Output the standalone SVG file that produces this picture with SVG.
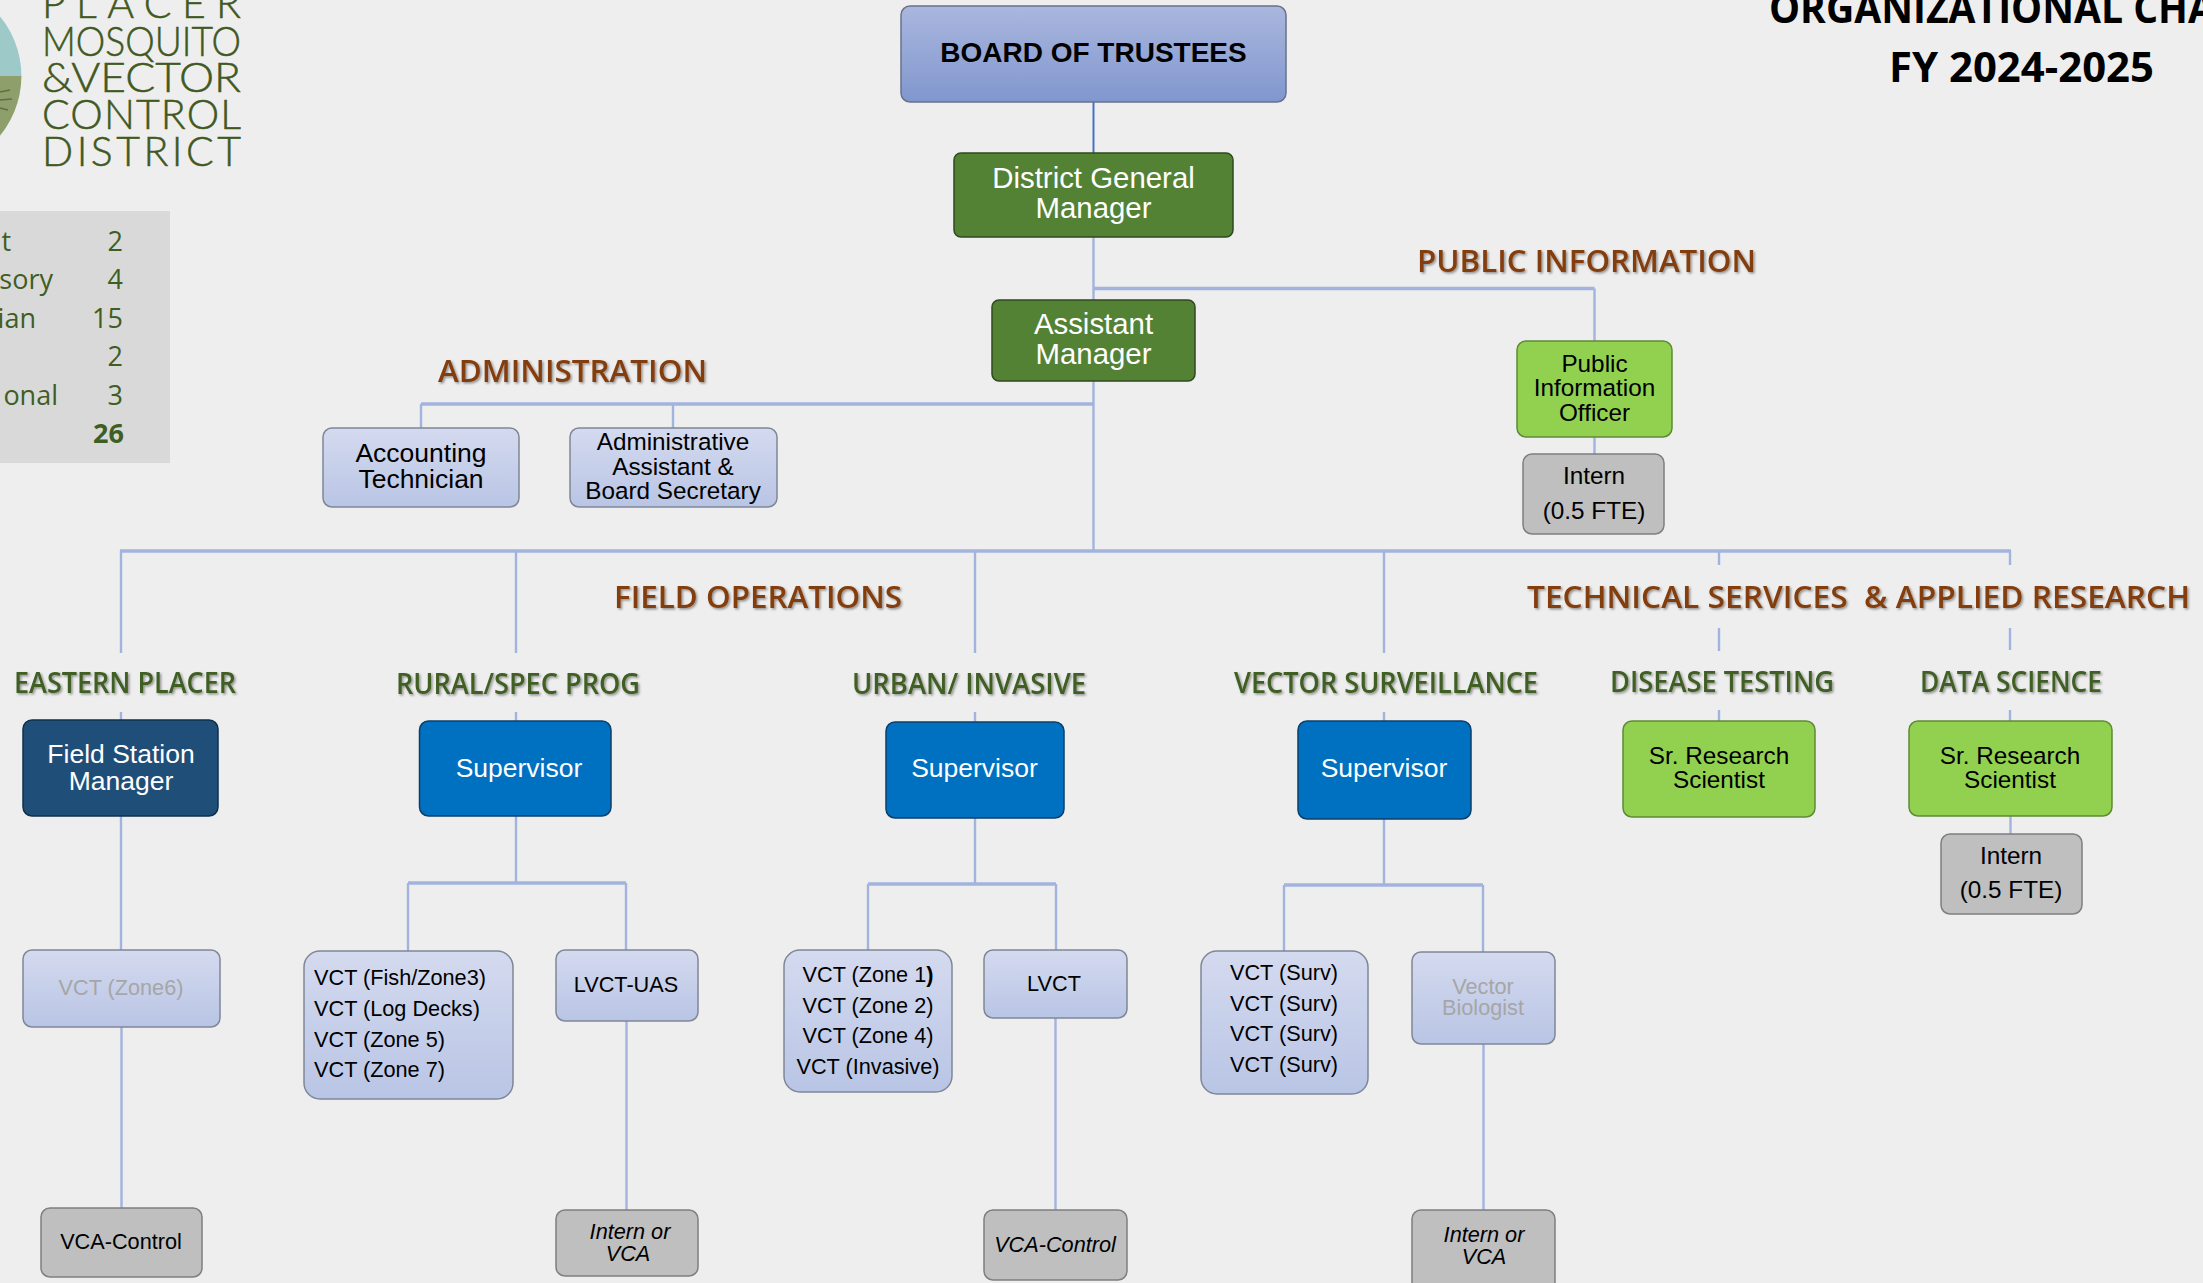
<svg xmlns="http://www.w3.org/2000/svg" width="2203" height="1283" viewBox="0 0 2203 1283">
<style>
.n{font-family:"Liberation Sans",Arial,sans-serif;text-anchor:middle;fill:#000}
.w{fill:#fff}.g{fill:#a6a6a6}.i{font-style:italic}.l{text-anchor:start}
.s22{font-size:21.7px}.s24{font-size:24.3px}.s26{font-size:26.5px}.s29{font-size:29.4px}
.b{stroke-width:1.5}
.blue{fill:url(#lt);stroke:#7f8796}.gray{fill:#bfbfbf;stroke:#7f7f7f}.dk{fill:#548235;stroke:#2f4a1c}.lime{fill:#92d050;stroke:#5f8a35}.bl{fill:#0070c0;stroke:#0b3f6b}.nv{fill:#1f4e79;stroke:#10304c}
.h{font-family:"Open Sans","Noto Sans",sans-serif;font-weight:600;filter:url(#sh)}
.br{font-size:31px;fill:#843c0c}.gn{font-size:28px;fill:#3f5e23}
.t{font-family:"Open Sans","Noto Sans",sans-serif;font-size:27px;fill:#3f5e23}
.e{text-anchor:end}
.logo{font-family:Lato,"Open Sans",sans-serif;font-weight:300;font-size:41px;fill:#41591f;stroke:#41591f;stroke-width:.5}
.ti{font-family:"Open Sans","Noto Sans",sans-serif;font-weight:700;font-size:41px;fill:#000}
.c{fill:none;stroke:#a2b3dd;stroke-width:2.4}
.m{fill:none;stroke:#a2b3dd;stroke-width:3.4}
</style>
<defs>
<linearGradient id="lt" x1="0" y1="0" x2="0" y2="1"><stop offset="0" stop-color="#d4daef"/><stop offset="1" stop-color="#b9c5e5"/></linearGradient>
<linearGradient id="bd" x1="0" y1="0" x2="0" y2="1"><stop offset="0" stop-color="#aab7de"/><stop offset="1" stop-color="#8097ce"/></linearGradient>
<filter id="sh" x="-5%" y="-20%" width="110%" height="150%"><feDropShadow dx="1.5" dy="1.5" stdDeviation="1" flood-color="#000" flood-opacity="0.4"/></filter>
<clipPath id="cc"><circle cx="-72" cy="76" r="93.4"/></clipPath>
</defs>
<rect width="2203" height="1283" fill="#eeeeee"/>

<g id="logo">
<g clip-path="url(#cc)">
<rect x="-170" y="-20" width="200" height="96" fill="#9dc9c9"/>
<rect x="-170" y="76" width="200" height="100" fill="#8f9f6b"/>
<path d="M0 92L10 90M0 100L12 99M0 108L8 110" stroke="#5f6f3e" stroke-width="1.5" fill="none"/>
</g>
<text class="logo" x="42" y="18" textLength="199" lengthAdjust="spacing">PLACER</text>
<text class="logo" x="42" y="56" textLength="199" lengthAdjust="spacingAndGlyphs">MOSQUITO</text>
<text class="logo" x="42" y="92" textLength="199" lengthAdjust="spacingAndGlyphs">&amp;VECTOR</text>
<text class="logo" x="42" y="129" textLength="199" lengthAdjust="spacing">CONTROL</text>
<text class="logo" x="42" y="166" textLength="199" lengthAdjust="spacing">DISTRICT</text>
</g>

<g id="staff-table">
<rect x="-2" y="211" width="172" height="252" fill="#d9d9d9"/>
<text class="t e" x="11" y="251">t</text><text class="t e" x="123" y="251">2</text>
<text class="t e" x="53" y="289">sory</text><text class="t e" x="123" y="289">4</text>
<text class="t e" x="36" y="328">ian</text><text class="t e" x="123" y="328">15</text>
<text class="t e" x="123" y="366">2</text>
<text class="t e" x="58" y="405">onal</text><text class="t e" x="123" y="405">3</text>
<text class="t e" x="124" y="443" font-weight="700">26</text>
</g>

<g id="title">
<text class="ti" x="1769" y="23" textLength="446" lengthAdjust="spacingAndGlyphs">ORGANIZATIONAL CHA</text>
<text class="ti" x="1889" y="82" textLength="265" lengthAdjust="spacingAndGlyphs">FY 2024-2025</text>
</g>

<g id="connectors">
<path d="M1093.5 102V153" fill="none" stroke="#4472c4" stroke-width="2"/>
<path class="c" d="M1093.5 237V551"/>
<path class="m" d="M1093.5 288.5H1594.5"/><path class="c" d="M1594.5 288.5V341M1594.5 437V454"/>
<path class="m" d="M421 404H1093.5"/><path class="c" d="M421 404V428M673 404V428"/>
<path class="m" d="M120 551H2011"/>
<path class="c" d="M121 551V653M121 712V720M516 551V653M516 712V721M975 551V653M975 712V722M1384 551V653M1384 712V721"/>
<path class="c" d="M1719 551V565M1719 628V651M1719 710V721M2010 551V565M2010 628V650M2010 710V721"/>
<path class="c" d="M121 816V950M121.5 1027V1208"/>
<path class="c" d="M516 816V883M408 951V883M626 950V883"/><path class="m" d="M408 883H626"/><path class="c" d="M626.5 1021V1210"/>
<path class="c" d="M975 818V884M868 950V884M1056 950V884"/><path class="m" d="M868 884H1056"/><path class="c" d="M1055.5 1018V1210"/>
<path class="c" d="M1384 819V885M1284 951V885M1483 952V885"/><path class="m" d="M1284 885H1483"/><path class="c" d="M1483.5 1044V1210"/>
<path class="c" d="M2010.5 816V834"/>
</g>

<g id="labels">
<text class="h br" x="1417" y="272" textLength="339" lengthAdjust="spacingAndGlyphs">PUBLIC INFORMATION</text>
<text class="h br" x="438" y="382" textLength="269" lengthAdjust="spacingAndGlyphs">ADMINISTRATION</text>
<text class="h br" x="614" y="608" textLength="288" lengthAdjust="spacingAndGlyphs">FIELD OPERATIONS</text>
<text class="h br" x="1527" y="608" textLength="663" lengthAdjust="spacingAndGlyphs" xml:space="preserve">TECHNICAL SERVICES  &amp; APPLIED RESEARCH</text>
<text class="h gn" x="14" y="693" textLength="222" lengthAdjust="spacingAndGlyphs">EASTERN PLACER</text>
<text class="h gn" x="396" y="694" textLength="244" lengthAdjust="spacingAndGlyphs">RURAL/SPEC PROG</text>
<text class="h gn" x="852" y="694" textLength="234" lengthAdjust="spacingAndGlyphs">URBAN/ INVASIVE</text>
<text class="h gn" x="1234" y="693" textLength="304" lengthAdjust="spacingAndGlyphs">VECTOR SURVEILLANCE</text>
<text class="h gn" x="1610" y="692" textLength="224" lengthAdjust="spacingAndGlyphs">DISEASE TESTING</text>
<text class="h gn" x="1920" y="692" textLength="182" lengthAdjust="spacingAndGlyphs">DATA SCIENCE</text>
</g>

<g id="board"><rect class="b" x="901" y="6" width="385" height="96" rx="9" fill="url(#bd)" stroke="#68728c"/><text class="n" x="1093.5" y="61.5" font-size="28" font-weight="700">BOARD OF TRUSTEES</text></g>
<g id="general-manager"><rect class="b dk" x="954" y="153" width="279" height="84" rx="7"/><text class="n w s29" x="1093.5" y="188">District General</text><text class="n w s29" x="1093.5" y="218">Manager</text></g>
<g id="assistant-manager"><rect class="b dk" x="992" y="300" width="203" height="81" rx="7"/><text class="n w s29" x="1093.5" y="334">Assistant</text><text class="n w s29" x="1093.5" y="364">Manager</text></g>
<g id="pio"><rect class="b lime" x="1517" y="341" width="155" height="96" rx="9"/><text class="n s24" x="1594.5" y="372">Public</text><text class="n s24" x="1594.5" y="396">Information</text><text class="n s24" x="1594.5" y="421">Officer</text></g>
<g id="pio-intern"><rect class="b gray" x="1523" y="454" width="141" height="80" rx="9"/><text class="n s24" x="1594" y="484">Intern</text><text class="n s24" x="1594" y="519">(0.5 FTE)</text></g>
<g id="accounting"><rect class="b blue" x="323" y="428" width="196" height="79" rx="9"/><text class="n s26" x="421" y="462">Accounting</text><text class="n s26" x="421" y="488">Technician</text></g>
<g id="admin-assistant"><rect class="b blue" x="570" y="428" width="207" height="79" rx="9"/><text class="n s24" x="673" y="450">Administrative</text><text class="n s24" x="673" y="475">Assistant &amp;</text><text class="n s24" x="673" y="499">Board Secretary</text></g>

<g id="field-manager"><rect class="b nv" x="23" y="720" width="195" height="96" rx="9"/><text class="n w s26" x="121" y="763">Field Station</text><text class="n w s26" x="121" y="790">Manager</text></g>
<g id="sup-rural"><rect class="b bl" x="419.5" y="721" width="191.5" height="95" rx="9"/><text class="n w s26" x="519" y="776.5">Supervisor</text></g>
<g id="sup-urban"><rect class="b bl" x="886" y="722" width="178" height="96" rx="9"/><text class="n w s26" x="974.5" y="777">Supervisor</text></g>
<g id="sup-surv"><rect class="b bl" x="1298" y="721" width="173" height="98" rx="9"/><text class="n w s26" x="1384" y="777">Supervisor</text></g>
<g id="sr-disease"><rect class="b lime" x="1623" y="721" width="192" height="96" rx="9"/><text class="n s24" x="1719" y="764">Sr. Research</text><text class="n s24" x="1719" y="788">Scientist</text></g>
<g id="sr-data"><rect class="b lime" x="1909" y="721" width="203" height="95" rx="9"/><text class="n s24" x="2010" y="764">Sr. Research</text><text class="n s24" x="2010" y="788">Scientist</text></g>
<g id="data-intern"><rect class="b gray" x="1941" y="834" width="141" height="80" rx="9"/><text class="n s24" x="2011" y="864">Intern</text><text class="n s24" x="2011" y="898">(0.5 FTE)</text></g>

<g id="vct6"><rect class="b blue" x="23" y="950" width="197" height="77" rx="9"/><text class="n g s22" x="121" y="995">VCT (Zone6)</text></g>
<g id="vct-rural"><rect class="b blue" x="304" y="951" width="209" height="148" rx="16"/><text class="n s22 l" x="314" y="985">VCT (Fish/Zone3)</text><text class="n s22 l" x="314" y="1016">VCT (Log Decks)</text><text class="n s22 l" x="314" y="1047">VCT (Zone 5)</text><text class="n s22 l" x="314" y="1077">VCT (Zone 7)</text></g>
<g id="lvct-uas"><rect class="b blue" x="556" y="950" width="142" height="71" rx="9"/><text class="n s22" x="626" y="992">LVCT-UAS</text></g>
<g id="vct-urban"><rect class="b blue" x="784" y="950" width="168" height="142" rx="16"/><text class="n s22" x="868" y="982">VCT (Zone 1<tspan font-weight="700">)</tspan></text><text class="n s22" x="868" y="1013">VCT (Zone 2)</text><text class="n s22" x="868" y="1043">VCT (Zone 4)</text><text class="n s22" x="868" y="1074">VCT (Invasive)</text></g>
<g id="lvct"><rect class="b blue" x="984" y="950" width="143" height="68" rx="9"/><text class="n s22" x="1054" y="991">LVCT</text></g>
<g id="vct-surv"><rect class="b blue" x="1201" y="951" width="167" height="143" rx="16"/><text class="n s22" x="1284" y="980">VCT (Surv)</text><text class="n s22" x="1284" y="1011">VCT (Surv)</text><text class="n s22" x="1284" y="1041">VCT (Surv)</text><text class="n s22" x="1284" y="1072">VCT (Surv)</text></g>
<g id="biologist"><rect class="b blue" x="1412" y="952" width="143" height="92" rx="9"/><text class="n g s22" x="1483" y="993.5">Vector</text><text class="n g s22" x="1483" y="1015">Biologist</text></g>

<g id="vca-east"><rect class="b gray" x="41" y="1208" width="161" height="69" rx="9"/><text class="n s22" x="121" y="1249">VCA-Control</text></g>
<g id="intern-rural"><rect class="b gray" x="556" y="1210" width="142" height="66" rx="9"/><text class="n s22 i" x="630" y="1239">Intern or</text><text class="n s22 i" x="628" y="1261">VCA</text></g>
<g id="vca-urban"><rect class="b gray" x="984" y="1210" width="143" height="70" rx="9"/><text class="n s22 i" x="1055" y="1252">VCA-Control</text></g>
<g id="intern-surv"><rect class="b gray" x="1412" y="1210" width="143" height="82" rx="9"/><text class="n s22 i" x="1484" y="1242">Intern or</text><text class="n s22 i" x="1484" y="1264">VCA</text></g>
</svg>
